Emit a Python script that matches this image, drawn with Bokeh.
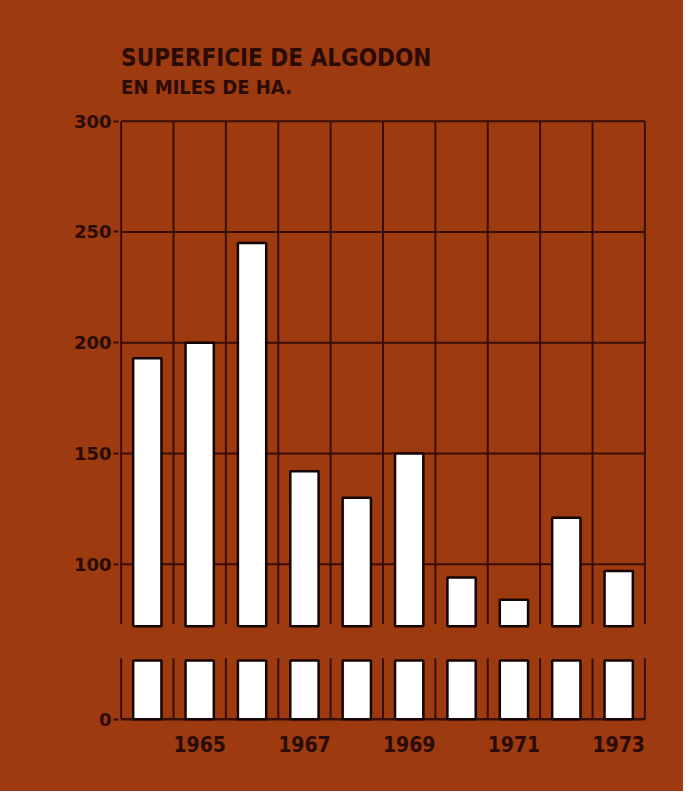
from bokeh.plotting import figure
from bokeh.models import Range1d, FixedTicker
from bokeh.core.properties import value
from bokeh.embed import file_html
from bokeh.resources import INLINE

# ---- data ----
years = [1964, 1965, 1966, 1967, 1968, 1969, 1970, 1971, 1972, 1973]
area = [193, 200, 245, 142, 130, 150, 94, 84, 121, 97]
upper_ticks = [100, 150, 200, 250, 300]
lower_ticks = [0]
year_ticks = [1965, 1967, 1969, 1971, 1973]
title_text = "SUPERFICIE DE ALGODON"
subtitle_text = "EN MILES DE HA."

# ---- style ----
BG = "#9d3a10"
INK = "#2a0b05"
GRID = "#3a0e06"
BAR_LINE = "#140604"
FONT = "'DejaVu Sans Condensed', 'Liberation Sans Narrow', sans-serif"
TICK_FONT = "'DejaVu Sans', 'Open Sans', sans-serif"

# broken axis: the lower stub (0 .. LOW_BREAK) is drawn shifted up by OFF
UP_BREAK = 72
LOW_BREAK = 26.5
OFF = 30
d = lambda v: v + OFF  # display position of a value on the lower stub

bounds = [years[0] - 0.5 + k for k in range(len(years) + 1)]

p = figure(width=683, height=791, x_range=Range1d(1963.45, 1973.55),
           y_range=Range1d(29, 354.5), output_backend="svg",
           toolbar_location=None, min_border_left=118, min_border_right=36,
           min_border_top=0, min_border_bottom=70)
p.background_fill_color = BG
p.border_fill_color = BG
p.outline_line_color = None
p.styles = {"background-color": BG}
p.xgrid.visible = False
p.ygrid.visible = False

# y axis: upper ticks + the "0" of the lower stub
ytick_pos = upper_ticks + [d(t) for t in lower_ticks]
p.yaxis.ticker = FixedTicker(ticks=ytick_pos)
p.yaxis.major_label_overrides = {d(t): str(t) for t in lower_ticks}
p.yaxis.axis_line_color = None
p.yaxis.major_tick_in = 0
p.yaxis.major_tick_out = 5
p.yaxis.major_tick_line_color = GRID
p.yaxis.major_tick_line_width = 2
p.yaxis.minor_tick_line_color = None
p.yaxis.major_label_text_font = TICK_FONT
p.yaxis.major_label_text_font_style = "bold"
p.yaxis.major_label_text_font_size = "18px"
p.yaxis.major_label_text_color = INK
p.yaxis.major_label_standoff = 2

p.xaxis.ticker = FixedTicker(ticks=year_ticks)
p.xaxis.axis_line_color = None
p.xaxis.major_tick_line_color = None
p.xaxis.minor_tick_line_color = None
p.xaxis.major_label_text_font = FONT
p.xaxis.major_label_text_font_style = "bold"
p.xaxis.major_label_text_font_size = "21px"
p.xaxis.major_label_text_color = INK
p.xaxis.major_label_standoff = 8

n = len(bounds)
# upper grid
p.segment(x0=bounds, x1=bounds, y0=[UP_BREAK + 1] * n, y1=[upper_ticks[-1]] * n,
          line_color=GRID, line_width=2)
p.segment(x0=[bounds[0]] * len(upper_ticks), x1=[bounds[-1]] * len(upper_ticks),
          y0=upper_ticks, y1=upper_ticks, line_color=GRID, line_width=2)
# lower grid
p.segment(x0=bounds, x1=bounds, y0=[d(0)] * n, y1=[d(LOW_BREAK + 1)] * n,
          line_color=GRID, line_width=2)
p.segment(x0=[bounds[0]], x1=[bounds[-1]], y0=[d(0)], y1=[d(0)],
          line_color=GRID, line_width=2.5)

# bars: upper part and lower stub
p.vbar(x=years, top=area, bottom=UP_BREAK, width=0.54,
       fill_color="white", line_color=BAR_LINE, line_width=2.5)
p.vbar(x=years, top=[d(LOW_BREAK)] * len(years), bottom=d(0), width=0.54,
       fill_color="white", line_color=BAR_LINE, line_width=2.5)

# titles
p.text(x=[bounds[0]], y=[328.5], text=[title_text], text_font=value(FONT),
       text_font_style="bold", text_font_size="24px", text_color=INK,
       text_baseline="alphabetic", text_align="left")
p.text(x=[bounds[0]], y=[315.6], text=[subtitle_text], text_font=value(FONT),
       text_font_style="bold", text_font_size="20px", text_color=INK,
       text_baseline="alphabetic", text_align="left")

open("out.html", "w").write(file_html(p, INLINE))
